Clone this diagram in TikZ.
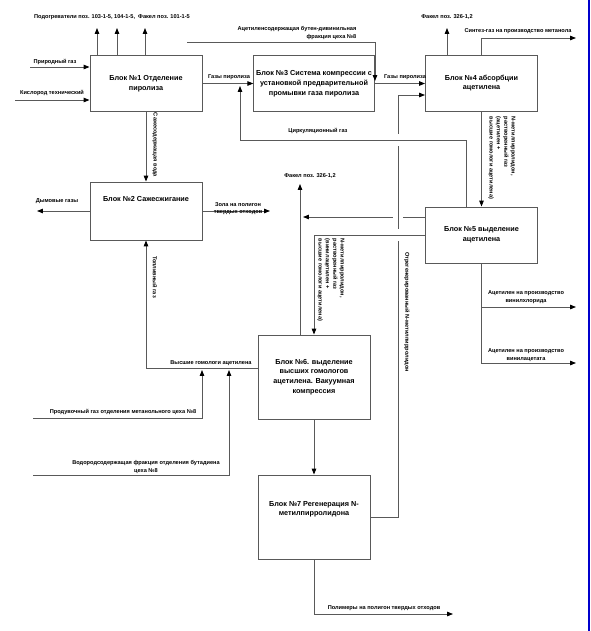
\documentclass[tikz,border=0pt]{standalone}
\usepackage{fontspec}
\setmainfont{Liberation Sans}
\usepackage{tikz}
\usetikzlibrary{arrows.meta}

\tikzset{
  block/.style={draw=black!65, line width=0.8pt, minimum width=3.36cm, minimum height=1.68cm,
    inner sep=2pt, align=center, font=\fontsize{6.2}{8.3}\selectfont\bfseries},
  tall/.style={block, minimum height=2.52cm},
  flow/.style={draw=black!65, line width=0.7pt, -{Triangle[length=5pt,width=3.8pt,color=black]}},
  lbl/.style={inner sep=0pt, align=center, font=\fontsize{4.8}{6.3}\selectfont\bfseries},
  vlbl/.style={lbl, rotate=-90, align=left},
}

\begin{document}
\begin{tikzpicture}[x=0.03cm, y=-0.03cm]
    \fill[white] (0,0) rectangle (591,631);
    \useasboundingbox (0,0) rectangle (591,631);
    \draw[blue!80!black, line width=1.2pt] (589,0) -- (589,631);

    % blocks
    \node[block] (b1) at (146,83.5) {Блок №1 Отделение\\пиролиза};
    \node[block] (b3) at (314,83.5) {Блок №3 Система компрессии с\\установкой предварительной\\промывки газа пиролиза};
    \node[block] (b4) at (481.5,83) {Блок №4 абсорбции\\ацетилена};
    \node[block, minimum height=1.74cm] (b2) at (146,211) {Блок №2 Сажесжигание\\[12pt]~};
    \node[block] (b5) at (481.5,235) {Блок №5 выделение\\ацетилена};
    \node[tall] (b6) at (314,377) {Блок №6. выделение\\высших гомологов\\ацетилена. Вакуумная\\компрессия};
    \node[tall] (b7) at (314,517) {Блок №7 Регенерация N-\\метилпирролидона\\[6pt]~};

    % free ends
    \coordinate (o1a) at (97,28);
    \coordinate (o1b) at (117,28);
    \coordinate (o1c) at (145,28);
    \coordinate (i1a) at (30,67);
    \coordinate (i1b) at (15,100);
    \coordinate (j1) at (240,86);
    \coordinate (i3) at (187,42);
    \coordinate (j3) at (375,81);
    \coordinate (o4a) at (447,28);
    \coordinate (o4b) at (576,38);
    \coordinate (r4) at (398,95);
    \coordinate (o2a) at (37,211);
    \coordinate (o2b) at (270,211);
    \coordinate (f6) at (300,184);
    \coordinate (j5) at (303,217);
    \coordinate (o5a) at (576,307);
    \coordinate (o5b) at (576,363);
    \coordinate (i6a) at (33,418);
    \coordinate (j6a) at (202,370);
    \coordinate (i6b) at (33,475);
    \coordinate (j6b) at (229,370);
    \coordinate (o7) at (453,614);

    % connectors
    \draw[flow] (b1.north -| o1a) -- (o1a);
    \draw[flow] (b1.north -| o1b) -- (o1b);
    \draw[flow] (b1.north -| o1c) -- (o1c);
    \draw[flow] (i1a) -- (i1a -| b1.west);
    \draw[flow] (i1b) -- (i1b -| b1.west);
    \draw[flow] (b1.east) -- (b3.west);
    \draw[flow] (b3.east) -- (b4.west |- b3.east);
    \draw[flow] (i3) -| (j3);
    \draw[flow] (b4.north -| o4a) -- (o4a);
    \draw[flow] (b4.north) |- (o4b);
    \draw[flow] (b4.south) -- (b5.north);
    \draw[flow] (b1.south) -- (b2.north);
    \draw[flow] (b2.west) -- (o2a);
    \draw[flow] (b2.east) -- (o2b);
    \draw[flow] (b6.west |- 0,368) -| (b2.south);
    \draw[flow] (i6a) -| (j6a);
    \draw[flow] (i6b) -| (j6b);
    \draw[flow] (b6.north -| f6) -- (f6);
    \draw[flow] (b5.west |- j5) -- (j5);
    \draw[flow] (b5.south) |- (o5b);
    \draw[flow] (b5.south |- o5a) -- (o5a);
    \draw[flow] (b6.south) -- (b7.north);
    \draw[flow] (b7.south) |- (o7);

    % crossings
    \fill[white] (393,214.5) rectangle (403,219.5);
    \draw[flow] (b7.east) -| (r4) -- (r4 -| b4.west);
    \fill[white] (395.5,134) rectangle (400.5,146);
    \fill[white] (395.5,229) rectangle (400.5,241);
    \draw[flow] (b5.north -| 466,0) |- (j1 |- 0,140) -- (j1);
    \draw[flow] (b5.west) -| (b6.north);

    % labels
    \node[lbl] (lo1) at (112,17) {Подогреватели поз. 103-1-5, 104-1-5,\ \ Факел поз. 101-1-5};
    \node[lbl] (li1a) at (55,62) {Природный газ};
    \node[lbl] (li1b) at (52,93) {Кислород технический};
    \node[lbl] (lg1) at (229,77) {Газы пиролиза};
    \node[lbl, align=right] (li3) at (297,33) {Ацетиленсодержащая бутен-дивинильная\\фракция цеха №8};
    \node[lbl] (lg3) at (405,77) {Газы пиролиза};
    \node[lbl] (lo4a) at (447,17) {Факел поз. 326-1,2};
    \node[lbl] (lo4b) at (518,31) {Синтез-газ на производство метанола};
    \node[lbl] (lc) at (318,131) {Циркуляционный газ};
    \node[vlbl] (l45) at (502,158) {N-метилпирролидон,\\растворенный газ\\(ацетилен +\\высшие гомологи ацетилена)};
    \node[vlbl] (l12) at (155,145) {Сажесодержащая вода};
    \node[lbl] (lo2a) at (57,201) {Дымовые газы};
    \node[lbl] (lo2b) at (238,208.5) {Зола на полигон\\твердых отходов};
    \node[lbl] (lf6) at (310,176) {Факел поз. 326-1,2};
    \node[vlbl] (l56) at (331,280) {N-метилпирролидон,\\растворенный газ\\(винилацетилен +\\высшие гомологи ацетилена)};
    \node[vlbl] (lr) at (407,312) {Отрегенерированный N-метилпирролидон};
    \node[vlbl] (lt) at (155,277) {Топливный газ};
    \node[lbl] (lh) at (211,363) {Высшие гомологи ацетилена};
    \node[lbl] (li6a) at (123,412) {Продувочный газ отделения метанольного цеха №8};
    \node[lbl] (li6b) at (146,467) {Водородсодержащая фракция отделения бутадиена\\цеха №8};
    \node[lbl] (lo5a) at (526,297) {Ацетилен на производство\\винилхлорида};
    \node[lbl] (lo5b) at (526,355) {Ацетилен на производство\\винилацетата};
    \node[lbl] (lo7) at (384,608) {Полимеры на полигон твердых отходов};
\end{tikzpicture}
\end{document}
